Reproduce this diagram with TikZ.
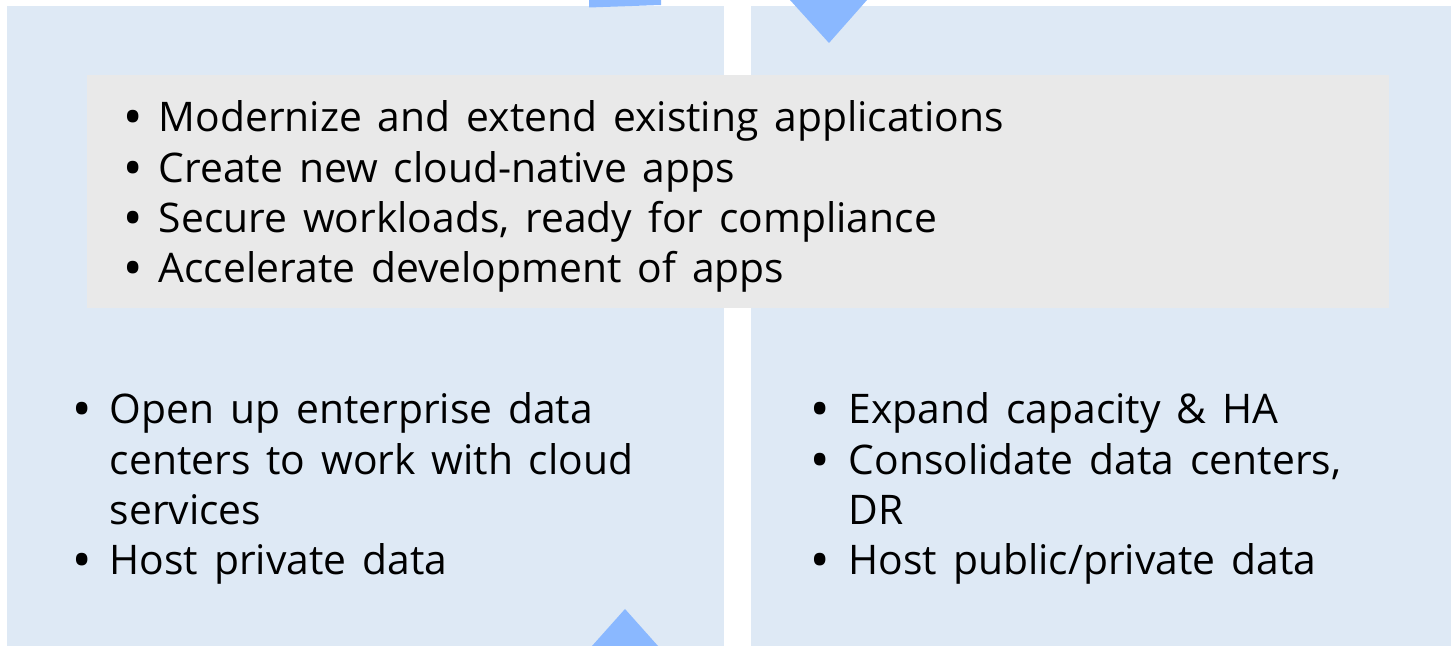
\documentclass[tikz,border=0pt]{standalone}
\usepackage{fontspec}
\setmainfont[WordSpace=1.5]{Open Sans}
\definecolor{panelblue}{HTML}{DEE9F5}
\definecolor{arrowblue}{HTML}{8AB8FF}
\definecolor{boxgray}{HTML}{E9E9E9}
\newcommand{\bul}{\textbf{\textbullet}}
\tikzset{
  itemlist/.style={anchor=base west, inner sep=0pt, align=left,
    font=\fontsize{11.6}{14.3}\selectfont}
}
\begin{document}
\begin{tikzpicture}[x=0.01cm,y=-0.01cm]
   \useasboundingbox (0,0) rectangle (1451,646);
   % two panels
   \fill[color=panelblue] (7,6) rectangle (724,646);
   \fill[color=panelblue] (751,6) rectangle (1451,646);
   % arrow ends
   \fill[color=arrowblue] (589,0) -- (661,0) -- (661,5) -- (589,7.5) -- cycle;
   \fill[color=arrowblue] (790,0) -- (867,0) -- (829,43) -- cycle;
   \fill[color=arrowblue] (592,646) -- (625,609) -- (658,646) -- cycle;
   % shared goals
   \fill[color=boxgray] (87,75) rectangle (1389,308);
   \node[itemlist] (goals) at (125,132) {\begin{tabular}[t]{@{}p{3.3mm}@{}l@{}}
     \bul & Modernize and extend existing applications\\
     \bul & Create new cloud-native apps\\
     \bul & Secure workloads, ready for compliance\\
     \bul & Accelerate development of apps
   \end{tabular}};
   \node[itemlist] (private) at (74,424) {\begin{tabular}[t]{@{}p{3.5mm}@{}l@{}}
     \bul & Open up enterprise data\\
          & centers to work with cloud\\
          & services\\
     \bul & Host private data
   \end{tabular}};
   \node[itemlist] (public) at (812,424) {\begin{tabular}[t]{@{}p{3.6mm}@{}l@{}}
     \bul & Expand capacity \& HA\\
     \bul & Consolidate data centers,\\
          & DR\\
     \bul & Host public/private data
   \end{tabular}};
\end{tikzpicture}
\end{document}
